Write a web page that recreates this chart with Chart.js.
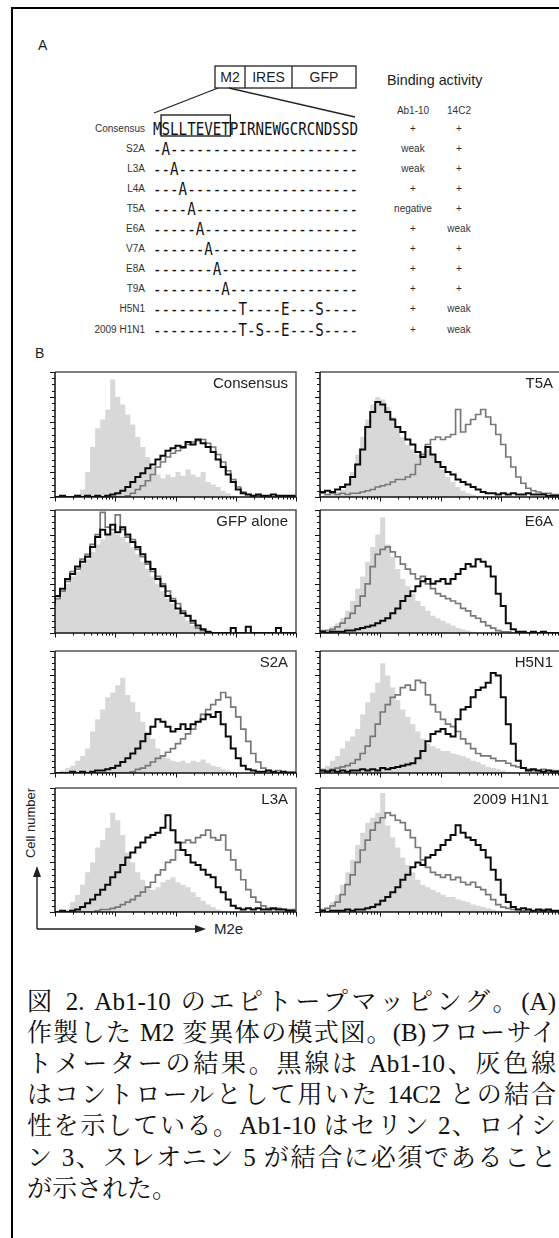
<!DOCTYPE html>
<html lang="ja">
<head>
<meta charset="utf-8">
<script src="https://cdn.jsdelivr.net/npm/chart.js@4.4.1/dist/chart.umd.min.js"></script>
<style>
  html, body { margin: 0; padding: 0; background: #fff; }
  #fig { position: relative; width: 559px; height: 1238px; overflow: hidden; background: #fff; }
  #fig canvas { position: absolute; }
  #art { position: absolute; left: 0; top: 0; }
  .cap {
    position: absolute; left: 27px; width: 529px; height: 31px; line-height: 31px;
    font-family: "Liberation Serif", "Noto Serif CJK JP", "Noto Sans CJK JP", serif;
    font-size: 25px; color: #111; white-space: nowrap;
    text-align: justify; text-align-last: justify; text-justify: inter-character;
  }
  .cap.last { text-align-last: left; }
</style>
</head>
<body>
<div id="fig">
  <svg id="art" width="559" height="1238" xmlns="http://www.w3.org/2000/svg"></svg>
</div>
<script>
// ---- part A: mutants and binding ----
const rowLabels = ['Consensus', 'S2A', 'L3A', 'L4A', 'T5A', 'E6A', 'V7A', 'E8A', 'T9A', 'H5N1', '2009 H1N1'];
const rowSeqs = [
  'MSLLTEVETPIRNEWGCRCNDSSD',
  '-A----------------------',
  '--A---------------------',
  '---A--------------------',
  '----A-------------------',
  '-----A------------------',
  '------A-----------------',
  '-------A----------------',
  '--------A---------------',
  '----------T----E---S----',
  '----------T-S--E---S----'
];
const bindAb110 = ['+', 'weak', 'weak', '+', 'negative', '+', '+', '+', '+', '+', '+'];
const bind14C2 = ['+', '+', '+', '+', '+', 'weak', '+', '+', '+', 'weak', 'weak'];

// ---- part B: flow histograms, 48 channels on a 4-decade log axis, % of max ----
const N = 48;
const decades = [0, 1, 2, 3, 4];
const minorSteps = [2, 3, 4, 5, 6, 7, 8, 9];

const panelNames = ['Consensus', 'GFP alone', 'S2A', 'L3A', 'T5A', 'E6A', 'H5N1', '2009 H1N1'];

// shaded control
const ctrlConsensus = [0,0,0,0,1,2, 6,20,40,55,62,70, 94,80,74,66,58,48, 40,32,24,18,15,18, 16,20,17,22,18,16, 20,12,10,8,5,3, 1,0,0,0,0,0, 0,0,0,0,0,0];
const ctrlGFP = [20,28,34,40,46,50, 56,60,66,72,76,80, 82,80,78,74,70,64, 58,52,46,40,34,28, 24,18,14,10,6,3, 1,0,0,0,0,0, 0,0,0,0,0,0, 0,0,0,0,0,0];
const ctrlS2A = [0,0,2,4,6,10, 14,20,34,44,52,62, 66,72,78,64,58,50, 42,34,28,20,14,12, 10,9,10,8,10,9, 11,8,6,5,3,2, 1,0,0,0,0,0, 0,0,0,0,0,0];
const ctrlL3A = [0,0,0,2,8,14, 22,32,40,52,58,68, 80,74,62,48,40,32, 26,20,18,20,24,26, 28,24,22,20,16,12, 9,6,4,2,1,0, 0,0,0,0,0,0, 0,0,0,0,0,0];
const ctrlT5A = [1,1,2,3,4,6, 10,20,34,48,62,74, 80,78,72,64,56,48, 42,38,34,36,38,34, 28,22,16,12,8,5, 3,2,1,0,0,0, 0,0,0,0,0,0, 0,0,0,0,0,0];
const ctrlE6A = [1,2,3,5,8,12, 18,26,36,46,58,70, 80,94,72,62,52,44, 38,32,26,22,18,14, 12,10,8,6,4,3, 2,1,0,0,0,0, 0,0,0,0,0,0, 0,0,0,0,0,0];
const ctrlH5N1 = [2,4,6,10,14,20, 26,30,36,48,58,66, 74,90,80,70,60,52, 46,40,34,28,24,22, 20,18,18,16,15,14, 12,10,9,7,5,4, 3,2,1,0,0,0, 0,0,0,0,0,0];
const ctrlH1N1 = [1,2,4,8,14,22, 32,42,54,64,72,76, 80,96,70,60,52,44, 38,32,26,22,20,18, 16,14,12,12,10,9, 8,6,5,4,3,2, 1,0,0,0,0,0, 0,0,0,0,0,0];

// Ab1-10 (black line)
const abConsensus = [0,0,1,0,0,1, 0,1,0,1,0,1, 2,3,5,8,12,16, 19,23,26,30,33,37, 39,41,40,44,42,46, 43,40,36,30,24,18, 12,6,3,2,1,2, 1,1,2,1,1,1];
const abGFP = [24,30,36,44,48,54, 58,62,70,78,84,80, 88,82,86,80,74,70, 64,58,52,44,38,30, 26,20,16,14,10,6, 3,1,0,0,0,0, 4,0,0,5,0,0, 0,0,0,4,0,0];
const abS2A = [0,0,0,0,1,0, 1,0,1,2,2,3, 4,6,9,12,16,20, 26,32,38,44,42,38, 34,36,40,36,40,42, 44,48,46,50,40,30, 20,12,6,3,2,1, 1,2,1,0,1,0];
const abL3A = [0,0,1,0,1,2, 4,7,10,14,18,22, 28,32,38,44,48,52, 56,60,62,64,68,78, 66,56,50,46,40,38, 34,30,28,20,16,10, 5,3,2,3,2,3, 2,2,3,2,2,1];
const abT5A = [6,4,5,4,6,8, 10,16,26,38,56,68, 76,74,68,62,56,52, 46,42,36,32,40,34, 28,24,20,18,14,12, 10,8,6,4,3,3, 2,3,2,3,2,2, 3,2,2,2,1,1];
const abE6A = [0,1,0,1,1,1, 2,2,3,4,5,6, 8,10,12,16,20,26, 30,34,38,42,44,40, 42,44,40,44,48,52, 56,54,60,58,54,46, 32,22,8,3,1,1, 0,1,0,1,0,0];
const abH5N1 = [1,2,1,2,1,2, 1,2,2,3,2,3, 2,4,3,4,5,6, 7,8,12,18,26,32, 34,36,32,30,44,52, 54,62,68,70,74,82, 80,62,40,24,10,4, 2,3,2,1,2,1];
const abH1N1 = [1,1,0,1,1,1, 2,1,2,2,3,4, 6,9,12,16,20,26, 30,36,40,38,44,46, 50,54,58,62,70,64, 60,58,54,50,44,34, 26,14,8,4,2,3, 2,1,2,1,2,1];

// 14C2 (grey line)
const c14Consensus = [0,0,0,0,0,0, 0,0,0,0,0,0, 0,0,0,1,3,6, 9,13,18,24,28,32, 35,37,39,42,44,45, 46,43,40,34,28,21, 14,8,4,2,1,1, 0,1,0,0,1,0];
const c14GFP = [22,28,34,42,50,52, 60,64,72,80,98,86, 84,96,84,78,76,68, 62,56,50,46,40,34, 28,24,18,14,8,4, 2,0,0,0,0,0, 0,0,0,0,0,0, 0,0,0,0,0,0];
const c14S2A = [0,0,0,0,0,0, 0,0,0,0,0,0, 0,0,0,0,1,3, 4,6,9,12,14,17, 20,24,28,32,36,42, 48,52,56,60,66,62, 54,46,36,26,16,9, 4,2,1,2,1,1];
const c14L3A = [0,0,0,0,0,0, 0,0,0,1,2,2, 3,4,6,8,10,13, 16,20,24,30,34,40, 42,50,56,58,56,60, 62,66,60,58,62,50, 42,34,26,18,12,8, 5,3,2,3,2,2];
const c14T5A = [2,3,2,3,2,3, 2,3,3,4,5,6, 8,9,10,12,14,14, 16,18,26,34,42,46, 48,46,48,50,70,52, 58,62,66,70,64,58, 50,42,32,24,16,11, 7,5,4,3,3,2];
const c14E6A = [1,2,2,3,5,8, 12,16,22,30,40,54, 64,68,70,66,62,56, 52,48,44,46,40,36, 32,30,28,26,24,20, 18,14,12,9,6,4, 2,1,1,0,0,0, 0,0,0,0,0,0];
const c14H5N1 = [1,2,2,3,4,5, 6,8,11,16,22,30, 40,50,56,62,64,70, 72,68,76,74,64,56, 50,44,40,38,34,28, 24,20,16,14,14,12, 10,10,8,6,5,4, 3,2,2,3,2,2];
const c14H1N1 = [1,2,3,5,8,14, 22,30,40,50,58,66, 72,76,80,78,74,72, 66,60,52,42,36,32, 30,28,30,26,28,24, 22,24,20,18,14,10, 6,4,3,2,2,1, 2,1,1,2,1,1];

// ---- layout ----
const panelBoxes = [
  { x: 55, y: 372, w: 241, h: 125 },
  { x: 55, y: 510, w: 241, h: 123 },
  { x: 55, y: 651, w: 241, h: 122 },
  { x: 55, y: 788, w: 241, h: 124 },
  { x: 320, y: 372, w: 241, h: 125 },
  { x: 320, y: 510, w: 241, h: 123 },
  { x: 320, y: 651, w: 241, h: 122 },
  { x: 320, y: 788, w: 241, h: 124 }
];
const panelData = [
  [ctrlConsensus, abConsensus, c14Consensus],
  [ctrlGFP, abGFP, c14GFP],
  [ctrlS2A, abS2A, c14S2A],
  [ctrlL3A, abL3A, c14L3A],
  [ctrlT5A, abT5A, c14T5A],
  [ctrlE6A, abE6A, c14E6A],
  [ctrlH5N1, abH5N1, c14H5N1],
  [ctrlH1N1, abH1N1, c14H1N1]
];

const captionLines = [
  '図 2. Ab1-10 のエピトープマッピング。(A)',
  '作製した M2 変異体の模式図。(B)フローサイ',
  'トメーターの結果。黒線は Ab1-10、灰色線',
  'はコントロールとして用いた 14C2 との結合',
  '性を示している。Ab1-10 はセリン 2、ロイシ',
  'ン 3、スレオニン 5 が結合に必須であること',
  'が示された。'
];

// ---- static drawing (part A, frame, axis arrows) ----
const SANS = 'Liberation Sans, Arial, sans-serif';
const svg = document.getElementById('art');
function el(tag, attrs, text) {
  const e = document.createElementNS('http://www.w3.org/2000/svg', tag);
  for (const k in attrs) e.setAttribute(k, attrs[k]);
  if (text !== undefined) e.textContent = text;
  svg.appendChild(e);
  return e;
}

// page frame
el('path', { d: 'M12 1240 L12 8 L565 8', stroke: '#000', 'stroke-width': 2, fill: 'none' });

el('text', { x: 38, y: 50, 'font-family': SANS, 'font-size': 14, fill: '#222' }, 'A');
el('text', { x: 35, y: 358, 'font-family': SANS, 'font-size': 14, fill: '#222' }, 'B');

// construct box
el('rect', { x: 215, y: 66, width: 141, height: 22, fill: 'none', stroke: '#222', 'stroke-width': 1.3 });
el('line', { x1: 245, y1: 66, x2: 245, y2: 88, stroke: '#222', 'stroke-width': 1.3 });
el('line', { x1: 292, y1: 66, x2: 292, y2: 88, stroke: '#222', 'stroke-width': 1.3 });
[['M2', 230], ['IRES', 268.5], ['GFP', 324]].forEach(([t, cx]) =>
  el('text', { x: cx, y: 82, 'text-anchor': 'middle', 'font-family': SANS, 'font-size': 14, fill: '#222' }, t));
el('line', { x1: 218, y1: 88, x2: 154, y2: 113, stroke: '#222', 'stroke-width': 1.3 });
el('line', { x1: 229, y1: 88, x2: 355, y2: 117, stroke: '#222', 'stroke-width': 1.3 });

el('text', { x: 387, y: 85, 'font-family': SANS, 'font-size': 14.3, fill: '#222' }, 'Binding activity');
el('text', { x: 413, y: 114, 'text-anchor': 'middle', 'font-family': SANS, 'font-size': 10, fill: '#333' }, 'Ab1-10');
el('text', { x: 459, y: 114, 'text-anchor': 'middle', 'font-family': SANS, 'font-size': 10, fill: '#333' }, '14C2');

const seqLeft = 153, seqWidth = 205, rowTop = 128, rowStep = 20.1;
rowLabels.forEach((lab, i) => {
  const cy = rowTop + rowStep * i;
  el('text', { x: 145, y: cy + 3.5, 'text-anchor': 'end', 'font-family': SANS, 'font-size': 10, fill: '#333' }, lab);
  el('text', { x: seqLeft, y: cy + 6.5, 'font-family': 'DejaVu Sans Mono, monospace', 'font-size': 18,
    textLength: seqWidth, lengthAdjust: 'spacingAndGlyphs', fill: '#111' }, rowSeqs[i]);
  el('text', { x: 413, y: cy + 3.5, 'text-anchor': 'middle', 'font-family': SANS, 'font-size': 10, fill: '#333' }, bindAb110[i]);
  el('text', { x: 459, y: cy + 3.5, 'text-anchor': 'middle', 'font-family': SANS, 'font-size': 10, fill: '#333' }, bind14C2[i]);
});
// epitope box round SLLTEVET
el('rect', { x: seqLeft + seqWidth / 24 - 0.5, y: 115, width: seqWidth / 24 * 8 + 1, height: 21, fill: 'none', stroke: '#111', 'stroke-width': 1.3 });

// axis arrows
el('path', { d: 'M37 929 L37 874 M37 929 L197 929', stroke: '#222', 'stroke-width': 1.4, fill: 'none' });
el('path', { d: 'M37 866 L33 877 L41 877 Z M206 929 L195 925 L195 933 Z', fill: '#222' });
el('text', { x: 0, y: 0, transform: 'translate(35 823) rotate(-90)', 'text-anchor': 'middle', 'font-family': SANS, 'font-size': 13, fill: '#222' }, 'Cell number');
el('text', { x: 214, y: 934, 'font-family': SANS, 'font-size': 15, fill: '#222' }, 'M2e');

// caption
const fig = document.getElementById('fig');
captionLines.forEach((t, i) => {
  const d = document.createElement('div');
  d.className = 'cap' + (i === captionLines.length - 1 ? ' last' : '');
  d.style.top = (986 + i * 31.1) + 'px';
  d.textContent = t;
  fig.appendChild(d);
});

// ---- histograms ----
const pad = { left: 7, right: 2, top: 2, bottom: 6 };

const panelFrame = {
  id: 'panelFrame',
  afterDatasetsDraw(chart, args, opts) {
    const { ctx, chartArea: a, scales: { x, y } } = chart;
    ctx.save();
    ctx.lineWidth = 1.5;
    ctx.strokeStyle = '#555';
    ctx.beginPath();
    ctx.moveTo(a.left, a.top); ctx.lineTo(a.right, a.top); ctx.lineTo(a.right, a.bottom);
    ctx.stroke();
    ctx.strokeStyle = '#111';
    ctx.beginPath();
    ctx.moveTo(a.left, a.top); ctx.lineTo(a.left, a.bottom); ctx.lineTo(a.right, a.bottom);
    ctx.stroke();
    ctx.lineWidth = 1;
    ctx.beginPath();
    decades.forEach(d => {
      const px = Math.round(x.getPixelForValue(d * N / 4)) + 0.5;
      ctx.moveTo(px, a.bottom); ctx.lineTo(px, a.bottom + 4.5);
      if (d < 4) minorSteps.forEach(m => {
        const q = Math.round(x.getPixelForValue((d + Math.log10(m)) * N / 4)) + 0.5;
        ctx.moveTo(q, a.bottom); ctx.lineTo(q, a.bottom + 2.5);
      });
    });
    for (let v = 0; v <= 100; v += 5) {
      const py = Math.round(y.getPixelForValue(v)) + 0.5;
      ctx.moveTo(a.left, py); ctx.lineTo(a.left - (v % 20 === 0 ? 5 : 3), py);
    }
    ctx.stroke();
    ctx.font = '15px "Liberation Sans", Arial, sans-serif';
    ctx.fillStyle = '#222';
    ctx.textAlign = 'right';
    ctx.textBaseline = 'middle';
    ctx.fillText(opts.label, a.right - opts.inset, a.top + 12);
    ctx.restore();
  }
};

const toPts = arr => arr.map((v, i) => ({ x: i, y: v })).concat([{ x: arr.length, y: arr[arr.length - 1] }]);

panelBoxes.forEach((b, k) => {
  const [ctrl, ab, c14] = panelData[k];
  const cv = document.createElement('canvas');
  const W = b.w + pad.left + pad.right, H = b.h + pad.top + pad.bottom;
  cv.width = W; cv.height = H;
  cv.style.left = (b.x - pad.left) + 'px';
  cv.style.top = (b.y - pad.top) + 'px';
  cv.style.width = W + 'px'; cv.style.height = H + 'px';
  fig.appendChild(cv);
  new Chart(cv, {
    type: 'line',
    data: {
      datasets: [
        { label: 'Ab1-10', data: toPts(ab), stepped: 'after', borderColor: '#0b0b0b', borderWidth: 2, pointRadius: 0, fill: false },
        { label: '14C2', data: toPts(c14), stepped: 'after', borderColor: '#787878', borderWidth: 1.7, pointRadius: 0, fill: false },
        { label: 'control', data: toPts(ctrl), stepped: 'after', borderColor: '#d8d8d8', borderWidth: 0, backgroundColor: '#d8d8d8', pointRadius: 0, fill: 'origin' }
      ]
    },
    options: {
      responsive: false,
      animation: false,
      devicePixelRatio: 1,
      events: [],
      layout: { padding: pad },
      scales: {
        x: { type: 'linear', min: 0, max: N, display: false },
        y: { min: 0, max: 100, display: false }
      },
      plugins: {
        legend: { display: false },
        tooltip: { enabled: false },
        panelFrame: { label: panelNames[k], inset: k === 7 ? 12 : 8 }
      }
    },
    plugins: [panelFrame]
  });
});
</script>
</body>
</html>
